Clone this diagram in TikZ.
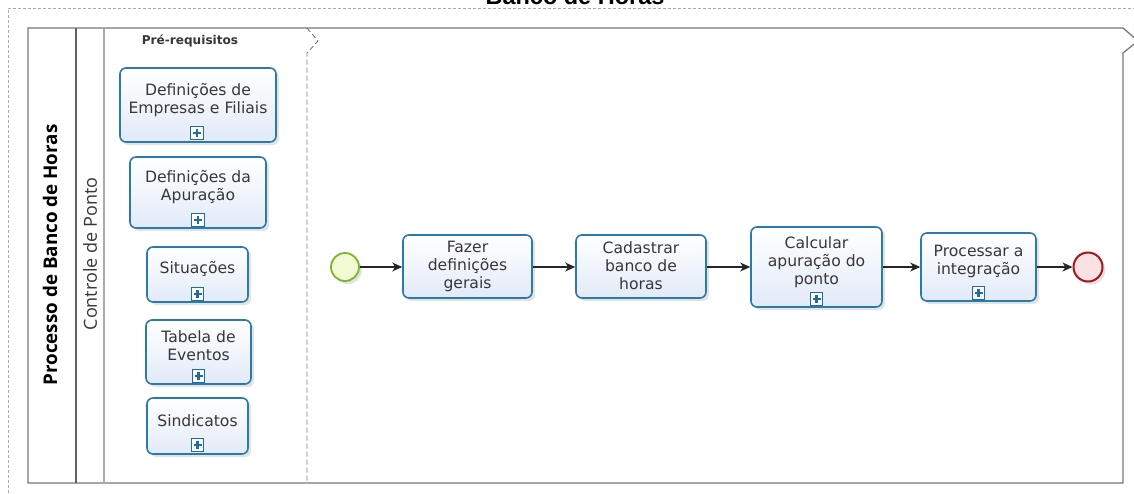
\documentclass[tikz,border=0pt]{standalone}
\usepackage{fontspec}
\setmainfont{DejaVu Sans}
\newfontfamily\titlefont{Liberation Sans}
\newfontfamily\osfont{Open Sans}
\usetikzlibrary{arrows.meta,shadows}
\definecolor{boxblue}{RGB}{42,122,172}
\definecolor{boxfill}{RGB}{226,234,248}
\definecolor{mkblue}{RGB}{30,108,164}
\definecolor{startgreen}{RGB}{122,182,42}
\definecolor{startfill}{RGB}{242,250,212}
\definecolor{endred}{RGB}{164,22,32}
\definecolor{endfill}{RGB}{250,226,228}
\definecolor{textgray}{RGB}{55,55,55}
\definecolor{poolgray}{RGB}{120,120,120}
\definecolor{lanegray}{RGB}{170,170,170}
\tikzset{
  box/.style={draw=boxblue, line width=1.6pt, rounded corners=6pt,
    top color=white, bottom color=boxfill,
    drop shadow={opacity=0.22, shadow xshift=3pt, shadow yshift=-3pt},
    inner sep=0pt},
  txt/.style={align=center, font=\fontsize{15.6}{18}\selectfont, text=textgray, inner sep=0pt},
  mk/.style={draw=mkblue, line width=1.4pt, fill=white, minimum size=12.5pt, inner sep=0pt,
    path picture={
      \fill[mkblue] ([xshift=-4pt,yshift=-1.3pt]path picture bounding box.center) rectangle ([xshift=4pt,yshift=1.3pt]path picture bounding box.center);
      \fill[mkblue] ([xshift=-1.3pt,yshift=-4pt]path picture bounding box.center) rectangle ([xshift=1.3pt,yshift=4pt]path picture bounding box.center);
    }},
  flow/.style={draw=black!85, line width=1.1pt, -{Stealth[length=10pt,width=9pt,inset=3pt]}},
  startev/.style={circle, draw=startgreen, line width=1.8pt, fill=startfill, minimum size=28pt, inner sep=0pt,
    drop shadow={opacity=0.22, shadow xshift=3pt, shadow yshift=-3pt}},
  endev/.style={circle, draw=endred, line width=2pt, fill=endfill, minimum size=29pt, inner sep=0pt,
    drop shadow={opacity=0.22, shadow xshift=3pt, shadow yshift=-3pt}},
}
\begin{document}
\begin{tikzpicture}[x=1pt,y=-1pt]
\useasboundingbox (0,0) rectangle (1134,493);
\clip (0,0) rectangle (1134,493);
\fill[white] (0,0) rectangle (1134,493);
% outer dashed frame
\draw[lanegray, line width=0.6pt, dash pattern=on 3pt off 2pt] (8,493) -- (8,8) -- (1134,8);
% title
\node[anchor=base, font=\titlefont\bfseries\fontsize{23.5}{26}\selectfont, inner sep=0pt] (title) at (575,4) {Banco de Horas};
% pool
\draw[poolgray, line width=1.3pt] (28,483) -- (28,28) -- (1123,28) -- (1138,41) -- (1123,53) -- (1123,483) -- cycle;
\draw[poolgray!80!black, line width=1.2pt] (76,28) -- (76,483);
\draw[lanegray, line width=1.4pt] (104,28) -- (104,483);
\node[rotate=90, font=\osfont\bfseries\fontsize{18.8}{20}\selectfont, inner sep=0pt] (pool) at (50,255) {Processo de Banco de Horas};
\node[rotate=90, font=\osfont\fontsize{18}{20}\selectfont, text=textgray, inner sep=0pt] (lane) at (90,254) {Controle de Ponto};
% group
\draw[poolgray, line width=0.9pt, dash pattern=on 5pt off 3pt] (307,28) -- (318,41) -- (307,53) -- (307,483);
\node[font=\bfseries\fontsize{12.1}{13}\selectfont, text=textgray, inner sep=0pt] (grp) at (190,41) {Pré-requisitos};
% prerequisite boxes
\node[box, minimum width=156pt, minimum height=74pt] (p1) at (198,105) {};
\node[txt] (p1t) at (198,100) {Definições de\\Empresas e Filiais};
\node[mk] (p1m) at (197,133) {};
\node[box, minimum width=136pt, minimum height=71pt] (p2) at (198,192.5) {};
\node[txt] (p2t) at (198,187) {Definições da\\Apuração};
\node[mk] (p2m) at (198,220) {};
\node[box, minimum width=101pt, minimum height=55pt] (p3) at (197.5,274.5) {};
\node[txt] (p3t) at (197.5,269) {Situações};
\node[mk] (p3m) at (197.5,294) {};
\node[box, minimum width=105pt, minimum height=64pt] (p4) at (198.5,352) {};
\node[txt] (p4t) at (198.5,346) {Tabela de\\Eventos};
\node[mk] (p4m) at (198.5,376) {};
\node[box, minimum width=101pt, minimum height=56pt] (p5) at (197.5,426) {};
\node[txt] (p5t) at (197.5,421) {Sindicatos};
\node[mk] (p5m) at (197.5,445) {};
% flow
\node[startev] (start) at (345,267) {};
\node[box, minimum width=129pt, minimum height=63pt] (t1) at (467.5,266.5) {};
\node[txt] (t1t) at (467.5,266) {Fazer\\definições\\gerais};
\node[box, minimum width=130pt, minimum height=63pt] (t2) at (641,266.5) {};
\node[txt] (t2t) at (641,266) {Cadastrar\\banco de\\horas};
\node[box, minimum width=131pt, minimum height=80pt] (t3) at (816.5,267) {};
\node[txt] (t3t) at (816.5,262) {Calcular\\apuração do\\ponto};
\node[mk] (t3m) at (816.5,299) {};
\node[box, minimum width=115pt, minimum height=68pt] (t4) at (978.5,267) {};
\node[txt] (t4t) at (978.5,261) {Processar a\\integração};
\node[mk] (t4m) at (978.5,293) {};
\node[endev] (end) at (1088,267) {};
\draw[flow] (start.east) -- (start.east -| t1.west);
\draw[flow] (t1.east |- start.east) -- (start.east -| t2.west);
\draw[flow] (t2.east |- start.east) -- (start.east -| t3.west);
\draw[flow] (t3.east |- start.east) -- (start.east -| t4.west);
\draw[flow] (t4.east |- start.east) -- (end.west);
\end{tikzpicture}
\end{document}
